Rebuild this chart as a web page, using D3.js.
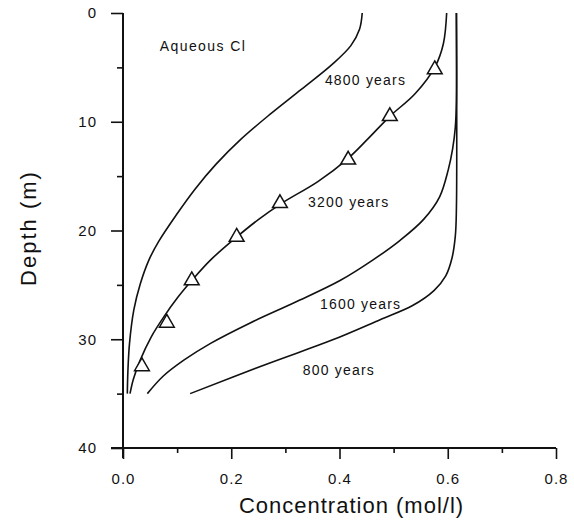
<!DOCTYPE html>
<html>
<head>
  <meta charset="utf-8">
  <script src="https://d3js.org/d3.v7.min.js"></script>
  <style>
    body { margin: 0; background: #fff; }
    svg { display: block; font-family: "Liberation Sans", Arial, sans-serif; }
  </style>
</head>
<body>
<svg id="chart"></svg>
<script>
  var width = 574;
  var height = 526;

  // profiles: [concentration, depth]
  var curve4800 = [[0.442, 0], [0.437, 1.5], [0.421, 3.0], [0.387, 4.7], [0.330, 7.0], [0.272, 9.3],
    [0.218, 11.6], [0.172, 13.9], [0.133, 16.2], [0.098, 18.6], [0.066, 21.0], [0.048, 22.7],
    [0.032, 24.9], [0.020, 27.3], [0.012, 30.4], [0.009, 33], [0.008, 35]];
  var curve3200 = [[0.598, 0], [0.592, 2.8], [0.577, 4.9], [0.540, 7.4], [0.493, 9.5], [0.452, 11.6],
    [0.413, 13.5], [0.360, 15.5], [0.293, 17.5], [0.250, 19.0], [0.210, 20.6], [0.162, 22.7],
    [0.127, 24.6], [0.102, 26.1], [0.076, 27.9], [0.052, 29.8], [0.032, 31.9], [0.019, 33.7],
    [0.013, 35]];
  var curve1600 = [[0.616, 0], [0.616, 8], [0.614, 10.5], [0.609, 12.5], [0.601, 14.4], [0.585, 16.9],
    [0.555, 19.0], [0.512, 20.9], [0.462, 22.7], [0.401, 24.6], [0.318, 26.6], [0.235, 28.5],
    [0.161, 30.4], [0.113, 31.9], [0.074, 33.4], [0.045, 35]];
  var curve800 = [[0.616, 0], [0.616, 18], [0.614, 20.5], [0.608, 22.5], [0.596, 24.2], [0.575, 25.5],
    [0.535, 26.9], [0.475, 28.2], [0.385, 30.1], [0.270, 32.2], [0.124, 35]];

  // measured points (triangles)
  var measured = [[0.576, 5.2], [0.493, 9.5], [0.416, 13.5], [0.290, 17.5], [0.210, 20.6],
    [0.127, 24.6], [0.081, 28.5], [0.035, 32.5]];

  var curveLabels = ["4800 years", "3200 years", "1600 years", "800 years"];
  var labelPos = [[0.373, 6.62], [0.342, 17.8], [0.364, 27.2], [0.332, 33.3]];

  var xMajor = [0, 0.2, 0.4, 0.6, 0.8];
  var xMinor = [0.1, 0.3, 0.5, 0.7];
  var yMajor = [0, 10, 20, 30, 40];
  var yMinor = [5, 15, 25, 35];

  var svg = d3.select("#chart")
    .attr("width", width)
    .attr("height", height);

  var x = d3.scaleLinear().domain([0, 0.8]).range([123, 556]);
  var y = d3.scaleLinear().domain([0, 40]).range([13, 448]);

  // y axis
  svg.append("g")
    .attr("transform", "translate(" + x(0) + ",0)")
    .call(d3.axisLeft(y).tickValues(yMajor).tickSize(12).tickSizeOuter(0).tickPadding(14)
      .tickFormat(d3.format("d")));
  svg.append("g")
    .attr("transform", "translate(" + x(0) + ",0)")
    .call(d3.axisLeft(y).tickValues(yMinor).tickSize(6).tickSizeOuter(0).tickFormat(""));

  // x axis
  svg.append("g")
    .attr("transform", "translate(0," + y(40) + ")")
    .call(d3.axisBottom(x).tickValues(xMajor).tickSize(11).tickSizeOuter(0).tickPadding(14)
      .tickFormat(d3.format(".1f")));
  svg.append("g")
    .attr("transform", "translate(0," + y(40) + ")")
    .call(d3.axisBottom(x).tickValues(xMinor).tickSize(5).tickSizeOuter(0).tickFormat(""));

  svg.selectAll(".domain").remove();
  svg.selectAll(".tick line").attr("stroke", "#111").attr("stroke-width", 1.6);
  svg.selectAll(".tick text")
    .attr("fill", "#111")
    .style("font-size", "15px")
    .style("letter-spacing", "1px");

  svg.append("line")
    .attr("x1", x(0)).attr("x2", x(0))
    .attr("y1", y(0)).attr("y2", y(40) + 10)
    .attr("stroke", "#111").attr("stroke-width", 2);
  svg.append("line")
    .attr("x1", x(0) - 12).attr("x2", x(0.8))
    .attr("y1", y(40)).attr("y2", y(40))
    .attr("stroke", "#111").attr("stroke-width", 2);

  // axis titles
  svg.append("text")
    .attr("x", (x(0) + x(0.8)) / 2 + 12)
    .attr("y", 513)
    .attr("text-anchor", "middle")
    .style("font-size", "22px")
    .style("letter-spacing", "1px")
    .attr("fill", "#111")
    .text("Concentration (mol/l)");

  svg.append("text")
    .attr("transform", "translate(36,228) rotate(-90)")
    .attr("text-anchor", "middle")
    .style("font-size", "22px")
    .style("letter-spacing", "2px")
    .attr("fill", "#111")
    .text("Depth (m)");

  // curves
  var line = d3.line()
    .x(d => x(d[0]))
    .y(d => y(d[1]))
    .curve(d3.curveCatmullRom.alpha(0.5));

  [curve4800, curve3200, curve1600, curve800].forEach(c =>
    svg.append("path")
      .datum(c)
      .attr("d", line)
      .attr("fill", "none")
      .attr("stroke", "#111")
      .attr("stroke-width", 1.6)
  );

  svg.selectAll(".meas")
    .data(measured)
    .enter()
    .append("path")
    .attr("class", "meas")
    .attr("d", d3.symbol().type(d3.symbolTriangle).size(95))
    .attr("transform", d => "translate(" + x(d[0]) + "," + y(d[1]) + ")")
    .attr("fill", "#fff")
    .attr("stroke", "#111")
    .attr("stroke-width", 1.5);

  // labels
  svg.selectAll(".clabel")
    .data(curveLabels)
    .enter()
    .append("text")
    .attr("class", "clabel")
    .attr("x", (d, i) => x(labelPos[i][0]))
    .attr("y", (d, i) => y(labelPos[i][1]))
    .style("font-size", "14px")
    .style("letter-spacing", "1.2px")
    .attr("fill", "#111")
    .text(d => d);

  svg.append("text")
    .attr("x", x(0.068))
    .attr("y", y(3.5))
    .style("font-size", "14px")
    .style("letter-spacing", "1.4px")
    .attr("fill", "#111")
    .text("Aqueous Cl");
</script>
</body>
</html>
